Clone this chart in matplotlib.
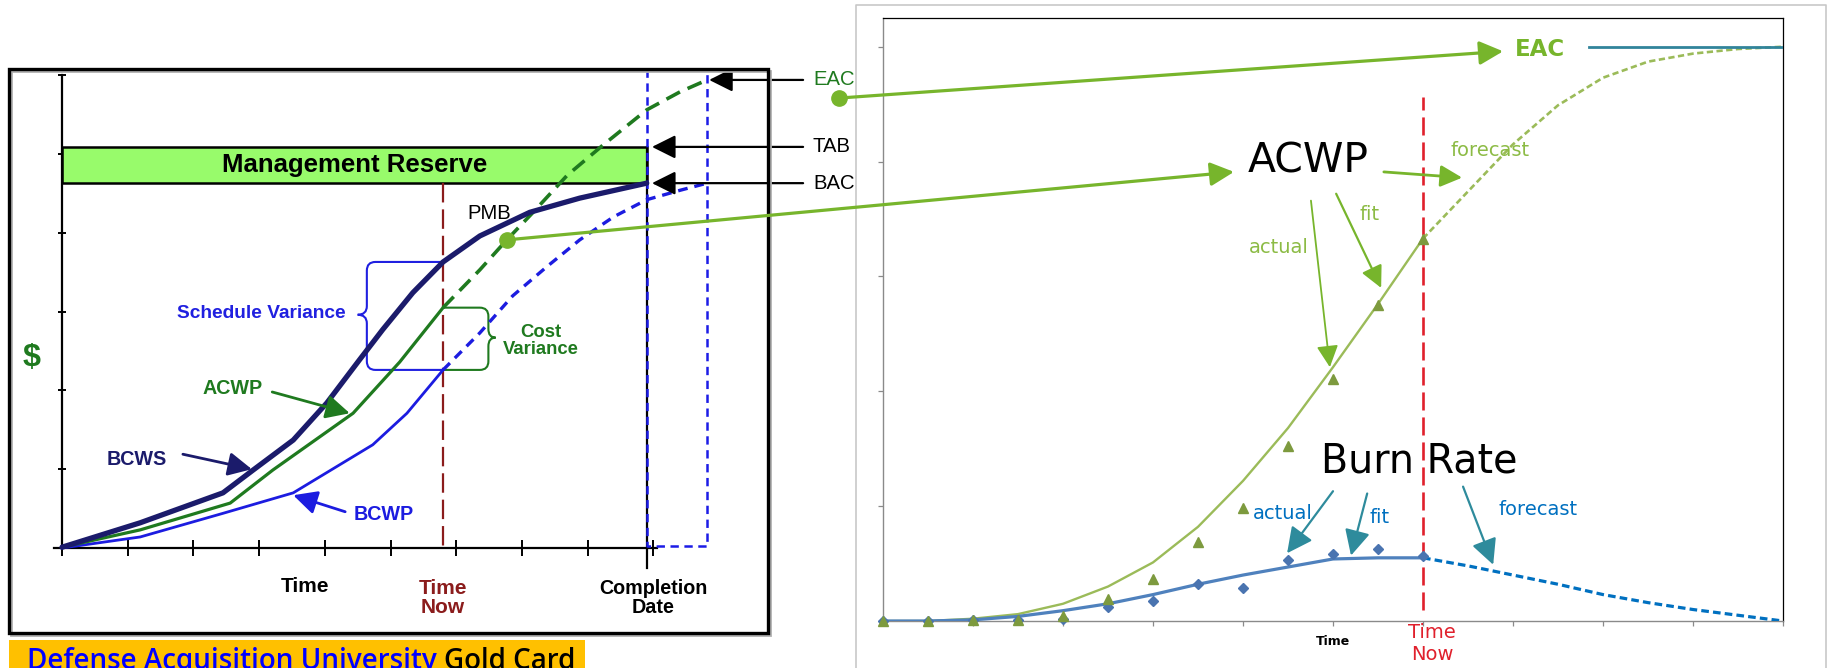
import numpy as np
import matplotlib
matplotlib.use("Agg")
import matplotlib.pyplot as plt
from matplotlib.patches import Rectangle, PathPatch
from matplotlib.path import Path
from matplotlib import font_manager as fm

plt.rcParams['lines.scale_dashes'] = False
plt.rcParams['font.family'] = ['DejaVu Sans']

# ---------------- Left panel data (DAU Gold Card schematic, tick units) ----------------
bcws_x = [0, 1.19, 2.45, 2.91, 3.52, 4.03, 4.53, 4.88, 5.34, 5.80, 6.36, 7.12, 7.88, 8.90]
bcws_y = [0.01, 0.32, 0.70, 0.99, 1.37, 1.84, 2.39, 2.77, 3.24, 3.63, 3.96, 4.26, 4.44, 4.63]
acwp_x = [0, 1.19, 2.56, 3.21, 4.43, 5.14, 5.80]
acwp_y = [0.01, 0.23, 0.57, 0.99, 1.71, 2.36, 3.05]
eacf_x = [5.80, 6.36, 6.77, 7.17, 7.69, 8.23, 8.90, 9.41, 9.82]
eacf_y = [3.05, 3.53, 3.91, 4.26, 4.73, 5.11, 5.56, 5.79, 5.94]
bcwp_x = [0, 1.19, 2.45, 3.52, 4.73, 5.25, 5.80]
bcwp_y = [0, 0.14, 0.44, 0.70, 1.31, 1.71, 2.26]
bcwpf_x = [5.80, 6.36, 6.86, 7.38, 7.88, 8.39, 8.90, 9.41, 9.82]
bcwpf_y = [2.26, 2.73, 3.20, 3.57, 3.91, 4.20, 4.42, 4.54, 4.63]
l_time_now = 5.80
l_completion = 8.90
l_forecast_completion = 9.82
l_bac = 4.63
l_tab = 5.09
l_eac = 5.94
pmb_point = (6.77, 3.91)

# ---------------- Right panel data ----------------
periods = list(range(13))
acwp_actual = [0, 0, 0.01, 0.01, 0.04, 0.19, 0.37, 0.69, 0.98, 1.52, 2.11, 2.75, 3.33]
acwp_fit = [0, 0, 0.02, 0.06, 0.15, 0.30, 0.51, 0.82, 1.22, 1.68, 2.21, 2.76, 3.33]
forecast_periods = list(range(12, 21))
acwp_forecast = [3.33, 3.74, 4.15, 4.49, 4.73, 4.87, 4.94, 4.98, 5.00]
burn_actual = [0, 0, 0.01, 0.01, 0.02, 0.12, 0.17, 0.32, 0.29, 0.53, 0.58, 0.63, 0.57]
burn_fit = [0, 0, 0.01, 0.04, 0.09, 0.15, 0.23, 0.32, 0.40, 0.47, 0.54, 0.55, 0.55]
burn_forecast = [0.55, 0.48, 0.40, 0.32, 0.23, 0.16, 0.10, 0.05, 0.0]
r_time_now = 12
eac_value = 5.0
eac_line_start = 15.69

# ---------------- fonts ----------------
avail = {f.name for f in fm.fontManager.ttflist}
if 'Liberation Sans Narrow' in avail:
    NAR = ['Liberation Sans Narrow', 'DejaVu Sans']
    NS = 1.0
else:
    NAR = ['Liberation Sans', 'DejaVu Sans']
    NS = 0.86
ARIAL = ['Liberation Sans', 'DejaVu Sans']
RF = ['DejaVu Sans']

W, H = 1830, 668
fig = plt.figure(figsize=(W / 100, H / 100), dpi=100)


def rect_px(x0, y0, x1, y1):
    return [x0 / W, 1 - y1 / H, (x1 - x0) / W, (y1 - y0) / H]


# ================= LEFT PANEL =================
ax_l = fig.add_axes(rect_px(29.15, 59.44, 719.0, 587.4))
ax_l.set_xlim(-0.5, 10.0)
ax_l.set_ylim(-0.5, 6.2)
ax_l.patch.set_visible(False)
for s in ['top', 'right']:
    ax_l.spines[s].set_visible(False)
ax_l.spines['left'].set_position(('data', 0))
ax_l.spines['left'].set_bounds(0, 6)
ax_l.spines['bottom'].set_position(('data', 0))
ax_l.spines['bottom'].set_bounds(-0.12, 9.05)
for s in ['left', 'bottom']:
    ax_l.spines[s].set_linewidth(1.6)
ax_l.set_xticks(range(10))
ax_l.set_yticks(range(7))
ax_l.tick_params(axis='x', direction='inout', length=11, width=1.4,
                 labelbottom=False)
ax_l.tick_params(axis='y', direction='inout', length=6, width=1.4,
                 labelleft=False)

# Management reserve box
ax_l.add_patch(Rectangle((0, l_bac), l_completion, l_tab - l_bac,
                         facecolor='#98FB6B', edgecolor='black', lw=1.8, zorder=2))
ax_l.text(l_completion / 2, (l_bac + l_tab) / 2, 'Management Reserve',
          family=ARIAL, weight='bold', fontsize=18.5, ha='center', va='center',
          zorder=3)

# completion line and forecast completion dashed box
ax_l.plot([l_completion, l_completion], [l_tab, -0.25], color='black', lw=1.6,
          clip_on=False, zorder=3)
ax_l.plot([l_completion, l_completion, l_forecast_completion, l_forecast_completion],
          [6.08, 0.03, 0.03, 6.04], color='#1c1ce6', lw=1.8, dashes=(6, 4),
          zorder=3)

# Time now
ax_l.plot([l_time_now, l_time_now], [l_bac, 0], color='#8b1c1c', lw=1.6,
          dashes=(14, 5), zorder=2)

# curves
ax_l.plot(bcwp_x, bcwp_y, color='#1c1ce0', lw=2.0, zorder=4,
          solid_joinstyle='round')
ax_l.plot(bcwpf_x, bcwpf_y, color='#1c1ce0', lw=2.4, dashes=(7, 5), zorder=4)
ax_l.plot(acwp_x, acwp_y, color='#1f7a1f', lw=2.3, zorder=5,
          solid_joinstyle='round')
ax_l.plot(eacf_x, eacf_y, color='#1f7a1f', lw=2.6, dashes=(11, 6), zorder=5)
ax_l.plot(bcws_x, bcws_y, color='#1b1b6b', lw=3.8, zorder=6,
          solid_joinstyle='round', solid_capstyle='round')


def brace(ax, xa, xs, yt, yb, ym, tip, color):
    s = 1 if xa > xs else -1
    rx, ry = 0.13, 0.11
    verts = [(xa, yt), (xs + s * rx, yt), (xs, yt), (xs, yt - ry),
             (xs, ym + ry), (xs, ym), (xs - s * tip, ym), (xs, ym), (xs, ym - ry),
             (xs, yb + ry), (xs, yb), (xs + s * rx, yb), (xa, yb)]
    codes = [Path.MOVETO, Path.LINETO, Path.CURVE3, Path.CURVE3,
             Path.LINETO, Path.CURVE3, Path.CURVE3, Path.CURVE3, Path.CURVE3,
             Path.LINETO, Path.CURVE3, Path.CURVE3, Path.LINETO]
    ax.add_patch(PathPatch(Path(verts, codes), fill=False, edgecolor=color,
                           lw=1.5, zorder=3))


brace(ax_l, l_time_now, 4.64, 3.63, 2.26, 2.96, 0.14, '#2020e0')
brace(ax_l, l_time_now, 6.49, 3.05, 2.26, 2.67, 0.11, '#1f7a1f')

# left labels
ax_l.text(3.04, 2.98, 'Schedule Variance', family=NAR, weight='bold',
          fontsize=16 * NS, color='#2020e0', ha='center', va='center')
ax_l.text(7.29, 2.63, 'Cost\nVariance', family=NAR, weight='bold',
          fontsize=15.5 * NS, color='#1f7a1f', ha='center', va='center',
          linespacing=1.0)
ax_l.text(2.60, 2.02, 'ACWP', family=NAR, weight='bold', fontsize=16.5 * NS,
          color='#1f7a1f', ha='center', va='center')
ax_l.text(1.14, 1.12, 'BCWS', family=NAR, weight='bold', fontsize=16.5 * NS,
          color='#1b1b6b', ha='center', va='center')
ax_l.text(4.89, 0.42, 'BCWP', family=NAR, weight='bold', fontsize=16.5 * NS,
          color='#1c1ce0', ha='center', va='center')
ax_l.text(6.50, 4.25, 'PMB', family=NAR, fontsize=17 * NS, color='black',
          ha='center', va='center')
ax_l.text(-0.47, 2.41, '$', family=NAR, weight='bold', fontsize=27 * NS,
          color='#1f7a1f', ha='center', va='center')
ax_l.text(3.70, -0.49, 'Time', family=NAR, weight='bold', fontsize=17.5 * NS,
          color='black', ha='center', va='center')
ax_l.text(l_time_now, -0.63, 'Time\nNow', family=NAR, weight='bold',
          fontsize=17.5 * NS, color='#8b1c1c', ha='center', va='center',
          linespacing=1.0)
ax_l.text(9.0, -0.63, 'Completion\nDate', family=NAR, weight='bold',
          fontsize=16.5 * NS, color='black', ha='center', va='center',
          linespacing=1.0)


def arrow(ax, xy, xytext, color, lw, ms=24, hl=0.6, hw=0.3, zorder=7, **kw):
    ax.annotate('', xy=xy, xytext=xytext, annotation_clip=False,
                arrowprops=dict(arrowstyle=f'-|>,head_length={hl},head_width={hw}',
                                color=color, lw=lw, mutation_scale=ms,
                                shrinkA=0, shrinkB=0), zorder=zorder, **kw)


arrow(ax_l, (4.38, 1.71), (3.20, 1.98), '#1f7a1f', 2.0)
arrow(ax_l, (2.89, 1.00), (1.84, 1.19), '#1b1b6b', 2.0)
arrow(ax_l, (3.52, 0.67), (4.31, 0.46), '#1c1ce0', 2.0)
arrow(ax_l, (8.98, l_tab), (11.28, l_tab), 'black', 1.6)
arrow(ax_l, (8.98, l_bac), (11.28, l_bac), 'black', 1.6)
arrow(ax_l, (9.85, l_eac), (11.28, l_eac), 'black', 1.6)
ax_l.text(11.43, l_tab, 'TAB', family=NAR, fontsize=17 * NS, color='black',
          ha='left', va='center')
ax_l.text(11.43, l_bac, 'BAC', family=NAR, fontsize=17 * NS, color='black',
          ha='left', va='center')
ax_l.text(11.43, l_eac, 'EAC', family=NAR, fontsize=17 * NS, color='#1f7a1f',
          ha='left', va='center')

# ================= RIGHT PANEL =================
ax_r = fig.add_axes(rect_px(883, 18, 1783, 621))
ax_r.set_xlim(0, 20)
ax_r.set_ylim(0, 5.25)
for s in ['top', 'right']:
    ax_r.spines[s].set_color('black')
    ax_r.spines[s].set_linewidth(0.9)
for s in ['left', 'bottom']:
    ax_r.spines[s].set_color('#8a8a8a')
    ax_r.spines[s].set_linewidth(1.0)
ax_r.set_xticks(range(0, 21, 2))
ax_r.set_yticks(range(0, 6))
ax_r.tick_params(direction='out', length=3.5, width=0.9, color='#8a8a8a',
                 labelbottom=False, labelleft=False)

OLIVE = '#9BBB59'
GREEN = '#77B52C'
GREEN_T = '#8CBB45'
TEAL = '#2E8B9C'
BLUE_T = '#0070C0'
RED = '#E0202C'

ax_r.plot([r_time_now, r_time_now], [0.1, 4.56], color=RED, lw=1.9,
          dashes=(13, 5), zorder=2)
ax_r.plot(periods, acwp_fit, color=OLIVE, lw=1.7, zorder=3)
ax_r.plot(forecast_periods, acwp_forecast, color=OLIVE, lw=1.9,
          dashes=(4.5, 2.5), zorder=3)
ax_r.plot(periods, burn_fit, color='#4F81BD', lw=2.3, zorder=3)
ax_r.plot(forecast_periods, burn_forecast, color=BLUE_T, lw=2.3,
          dashes=(5.5, 3), zorder=3)
ax_r.plot(periods, burn_actual, linestyle='none', marker='D', ms=5.5,
          color='#4A74B0', zorder=4, clip_on=False)
ax_r.plot(periods, acwp_actual, linestyle='none', marker='^', ms=7.5,
          color='#7D9A3E', zorder=5, clip_on=False)
ax_r.plot([eac_line_start, 20], [eac_value, eac_value], color='#31849B',
          lw=2.0, zorder=3)

# right labels
ax_r.text(14.6, 4.98, 'EAC', family=RF, weight='bold', fontsize=16.5,
          color=GREEN, ha='center', va='center')
ax_r.text(9.44, 4.0, 'ACWP', family=RF, fontsize=29.5, color='black',
          ha='center', va='center')
ax_r.text(11.91, 1.39, 'Burn Rate', family=RF, fontsize=28.5, color='black',
          ha='center', va='center', zorder=6)
ax_r.text(13.5, 4.1, 'forecast', family=RF, fontsize=14, color=GREEN_T,
          ha='center', va='center')
ax_r.text(10.82, 3.54, 'fit', family=RF, fontsize=14, color=GREEN_T,
          ha='center', va='center')
ax_r.text(8.8, 3.25, 'actual', family=RF, fontsize=14, color=GREEN_T,
          ha='center', va='center')
ax_r.text(8.89, 0.94, 'actual', family=RF, fontsize=14, color=BLUE_T,
          ha='center', va='center')
ax_r.text(11.04, 0.90, 'fit', family=RF, fontsize=14, color=BLUE_T,
          ha='center', va='center')
ax_r.text(14.56, 0.97, 'forecast', family=RF, fontsize=14, color=BLUE_T,
          ha='center', va='center')
ax_r.text(10.0, -0.18, 'Time', family=RF, weight='bold', fontsize=9,
          color='black', ha='center', va='center')
ax_r.text(12.2, -0.195, 'Time\nNow', family=RF, fontsize=14, color=RED,
          ha='center', va='center', linespacing=1.25)

arrow(ax_r, (12.87, 3.86), (11.13, 3.91), GREEN, 2.0, ms=22)
arrow(ax_r, (11.07, 2.90), (10.07, 3.72), GREEN, 1.6, ms=22)
arrow(ax_r, (9.93, 2.21), (9.51, 3.66), GREEN, 1.3, ms=22)
arrow(ax_r, (8.98, 0.59), (10.0, 1.13), TEAL, 1.6, ms=26)
arrow(ax_r, (10.4, 0.57), (10.76, 1.11), TEAL, 1.6, ms=26)
arrow(ax_r, (13.56, 0.49), (12.89, 1.17), TEAL, 1.6, ms=26)

# ================= OVERLAY (frames, cross-panel arrows, caption) =================
ov = fig.add_axes([0, 0, 1, 1], zorder=10)
ov.set_xlim(0, W)
ov.set_ylim(H, 0)
ov.axis('off')
ov.patch.set_visible(False)

ov.add_patch(Rectangle((11, 71), 759, 564, fill=False, edgecolor='#b0b0b0',
                       lw=2.0, zorder=1))
ov.add_patch(Rectangle((9, 69), 759, 564, fill=False, edgecolor='black',
                       lw=2.4, zorder=2))
ov.plot([856, 856, 1826, 1826], [H + 5, 5, 5, H + 5], color='#c8c8c8', lw=1.2,
        clip_on=False)

ov.add_patch(Rectangle((9, 640), 576, 40, facecolor='#FFC000', edgecolor='none',
                       clip_on=False))
CAP = ['Open Sans', 'DejaVu Sans']
t1 = ov.text(27, 647, 'Defense Acquisition University ', family=CAP,
             weight='semibold', fontsize=20, color='#0000FF', ha='left', va='top')
ov.annotate('Gold Card', xy=(1, 0), xycoords=t1, family=CAP,
            weight='semibold', fontsize=20, color='black', ha='left', va='bottom')

# cross-panel green arrows with dots
ax_l.plot([11.83], [5.71], marker='o', ms=11, color='#77B52C', clip_on=False,
          zorder=9)
ax_l.plot([pmb_point[0]], [pmb_point[1]], marker='o', ms=11, color='#77B52C',
          clip_on=False, zorder=9)
ov.annotate('', xy=(13.78, 4.96), xycoords=ax_r.transData,
            xytext=(11.83, 5.71), textcoords=ax_l.transData, annotation_clip=False,
            arrowprops=dict(arrowstyle='-|>,head_length=0.6,head_width=0.3',
                            color=GREEN, lw=2.3, mutation_scale=24,
                            shrinkA=0, shrinkB=0))
ov.annotate('', xy=(7.8, 3.91), xycoords=ax_r.transData,
            xytext=pmb_point, textcoords=ax_l.transData, annotation_clip=False,
            arrowprops=dict(arrowstyle='-|>,head_length=0.6,head_width=0.3',
                            color=GREEN, lw=2.3, mutation_scale=24,
                            shrinkA=0, shrinkB=0))

fig.savefig('out.png', dpi=100)
